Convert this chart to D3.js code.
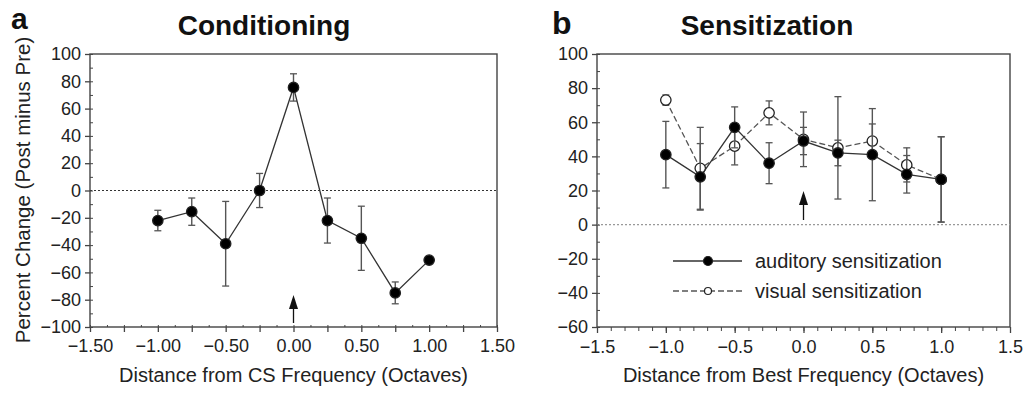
<!DOCTYPE html>
<html>
<head>
<meta charset="utf-8">
<script src="https://cdn.jsdelivr.net/npm/d3@7"></script>
<style>
  body { margin: 0; background: #fff; }
  svg { display: block; font-family: "Liberation Sans", Arial, sans-serif; }
</style>
</head>
<body>
<svg id="chart" width="1029" height="395"></svg>
<script>
// panel a: conditioning
const condX = [-1.00, -0.75, -0.50, -0.25, 0.00, 0.25, 0.50, 0.75, 1.00];
const condY = [-22, -15.5, -39, 0, 75.5, -22, -35, -75, -51];
const condErr = [7.5, 10, 31, 12.5, 10, 16.5, 23.5, 8, 0];

// panel b: sensitization
const sensX = [-1.0, -0.75, -0.5, -0.25, 0.0, 0.25, 0.5, 0.75, 1.0];
const audY = [41, 28, 57, 36, 49, 42, 41, 29.5, 26.5];
const audErr = [19.5, 19.5, 12, 12, 8, 7.5, 27, 11, 25];
const visY = [73, 33, 46, 65.5, 50, 45, 49, 35, 26.5];
const visErr = [3, 24, 11, 7, 16, 30, 10, 10, 25];

const condXTicks = [-1.5, -1.0, -0.5, 0, 0.5, 1.0, 1.5];
const condYTicks = [-100, -80, -60, -40, -20, 0, 20, 40, 60, 80, 100];
const sensXTicks = [-1.5, -1.0, -0.5, 0, 0.5, 1.0, 1.5];
const sensYTicks = [-60, -40, -20, 0, 20, 40, 60, 80, 100];

const svg = d3.select('#chart');
const AX = '#444';
const minus = s => s.replace('-', '\u2212');

function panel(opt) {
  const x = d3.scaleLinear().domain([-1.5, 1.5]).range([opt.left, opt.right]);
  const y = d3.scaleLinear().domain(opt.yDomain).range([opt.bottom, opt.top]);
  const g = svg.append('g');

  // frame
  g.append('rect').attr('x', opt.left).attr('y', opt.top)
    .attr('width', opt.right - opt.left).attr('height', opt.bottom - opt.top)
    .attr('fill', 'none').attr('stroke', AX).attr('stroke-width', 1.4);

  // zero line
  g.append('line').attr('x1', opt.left).attr('x2', opt.right)
    .attr('y1', y(0)).attr('y2', y(0))
    .attr('stroke', opt.zeroColor).attr('stroke-width', 1.2).attr('stroke-dasharray', '2,2');

  // x axis
  const xa = g.append('g').attr('transform', `translate(0,${opt.bottom})`)
    .call(d3.axisBottom(x).tickValues(d3.range(-1.5, 1.5001, opt.xMajorStep)).tickSize(opt.xMajorSize)
      .tickFormat(d => opt.xTicks.some(t => Math.abs(t - d) < 1e-6) ? minus(d3.format(opt.xFmt)(d)) : ''));
  xa.select('.domain').remove();
  xa.selectAll('line').attr('stroke', AX).attr('stroke-width', 1.3);
  xa.selectAll('text').attr('font-size', 18).attr('fill', '#222').attr('dy', '0.95em');
  const xm = g.append('g').attr('transform', `translate(0,${opt.bottom})`)
    .call(d3.axisBottom(x).tickValues(d3.range(-1.5, 1.5001, opt.xMinorStep)).tickSize(opt.xMinorSize).tickFormat(''));
  xm.select('.domain').remove();
  xm.selectAll('line').attr('stroke', AX).attr('stroke-width', 1);

  // y axis
  const ya = g.append('g').attr('transform', `translate(${opt.left},0)`)
    .call(d3.axisLeft(y).tickValues(opt.yTicks).tickSize(5).tickPadding(4)
      .tickFormat(d => minus(String(d))));
  ya.select('.domain').remove();
  ya.selectAll('line').attr('stroke', AX).attr('stroke-width', 1.3);
  ya.selectAll('text').attr('font-size', 18).attr('fill', '#222');
  const ym = g.append('g').attr('transform', `translate(${opt.left},0)`)
    .call(d3.axisLeft(y).tickValues(d3.range(opt.yDomain[0], opt.yDomain[1] + 1, 10)).tickSize(-3).tickFormat(''));
  ym.select('.domain').remove();
  ym.selectAll('line').attr('stroke', AX).attr('stroke-width', 1);

  // x title
  g.append('text').attr('x', (opt.left + opt.right) / 2).attr('y', 382)
    .attr('text-anchor', 'middle').attr('font-size', 20).attr('fill', '#222').text(opt.xTitle);

  // panel title + letter
  g.append('text').attr('x', opt.titleX).attr('y', 35).attr('text-anchor', 'middle')
    .attr('font-size', 28).attr('font-weight', 'bold').attr('fill', '#111').text(opt.title);
  g.append('text').attr('x', opt.letterX).attr('y', opt.letterY)
    .attr('font-size', opt.letterSize).attr('font-weight', 'bold').attr('fill', '#111').text(opt.letter);

  // arrow at x = 0
  const ax = x(0);
  g.append('line').attr('x1', ax).attr('x2', ax).attr('y1', opt.arrow[0] + 12).attr('y2', opt.arrow[1])
    .attr('stroke', '#111').attr('stroke-width', 1.3);
  g.append('path').attr('d', `M${ax},${opt.arrow[0]} L${ax - 4.5},${opt.arrow[0] + 14} L${ax + 4.5},${opt.arrow[0] + 14} Z`)
    .attr('fill', '#111');

  return { g, x, y };
}

function series(p, xs, ys, es, filled, dashed) {
  const { g, x, y } = p;
  // error bars
  xs.forEach((xv, i) => {
    if (!es[i]) return;
    const cx = x(xv), y1 = y(ys[i] + es[i]), y2 = y(ys[i] - es[i]);
    g.append('line').attr('x1', cx).attr('x2', cx).attr('y1', y1).attr('y2', y2)
      .attr('stroke', '#555').attr('stroke-width', 1.4);
    [y1, y2].forEach(yy => g.append('line').attr('x1', cx - 3.5).attr('x2', cx + 3.5)
      .attr('y1', yy).attr('y2', yy).attr('stroke', '#555').attr('stroke-width', 1.3));
  });
  const line = d3.line().x((d, i) => x(xs[i])).y(d => y(d));
  g.append('path').datum(ys).attr('d', line).attr('fill', 'none')
    .attr('stroke', dashed ? '#555' : '#333').attr('stroke-width', 1.3)
    .attr('stroke-dasharray', dashed ? '6,3' : null);
  g.selectAll(null).data(ys).enter().append('circle')
    .attr('cx', (d, i) => x(xs[i])).attr('cy', d => y(d)).attr('r', 5.2)
    .attr('fill', filled ? '#000' : '#fff').attr('stroke', '#222').attr('stroke-width', 1.3);
}

// Panel a
const pa = panel({
  left: 90, right: 497, top: 54, bottom: 327, yDomain: [-100, 100],
  xTicks: condXTicks, yTicks: condYTicks, xFmt: '.2f',
  xMajorStep: 0.25, xMajorSize: 5, xMinorStep: 0.125, xMinorSize: -2,
  zeroColor: '#333', xTitle: 'Distance from CS Frequency (Octaves)',
  title: 'Conditioning', titleX: 264, letter: 'a', letterX: 11, letterY: 29, letterSize: 30,
  arrow: [295, 323]
});
series(pa, condX, condY, condErr, true, false);
svg.append('text').attr('transform', 'translate(30,190) rotate(-90)').attr('text-anchor', 'middle')
  .attr('font-size', 20.5).attr('fill', '#222').text('Percent Change (Post minus Pre)');

// Panel b
const pb = panel({
  left: 597, right: 1010, top: 54, bottom: 327, yDomain: [-60, 100],
  xTicks: sensXTicks, yTicks: sensYTicks, xFmt: '.1f',
  xMajorStep: 0.5, xMajorSize: 6, xMinorStep: 0.1, xMinorSize: 4,
  zeroColor: '#999', xTitle: 'Distance from Best Frequency (Octaves)',
  title: 'Sensitization', titleX: 767, letter: 'b', letterX: 552, letterY: 34, letterSize: 32,
  arrow: [191, 220]
});
series(pb, sensX, visY, visErr, false, true);
series(pb, sensX, audY, audErr, true, false);

// legend
const leg = [{ label: 'auditory sensitization', filled: true, dashed: false },
             { label: 'visual sensitization', filled: false, dashed: true }];
leg.forEach((d, i) => {
  const ly = 261 + i * 30;
  pb.g.append('line').attr('x1', 673).attr('x2', 742).attr('y1', ly).attr('y2', ly)
    .attr('stroke', d.dashed ? '#555' : '#333').attr('stroke-width', 1.3)
    .attr('stroke-dasharray', d.dashed ? '6,3' : null);
  pb.g.append('circle').attr('cx', 708).attr('cy', ly).attr('r', d.filled ? 4.5 : 3.5)
    .attr('fill', d.filled ? '#000' : '#fff').attr('stroke', '#222').attr('stroke-width', 1.2);
  pb.g.append('text').attr('x', 755).attr('y', ly + 7).attr('font-size', 20).attr('fill', '#222').text(d.label);
});
</script>
</body>
</html>
